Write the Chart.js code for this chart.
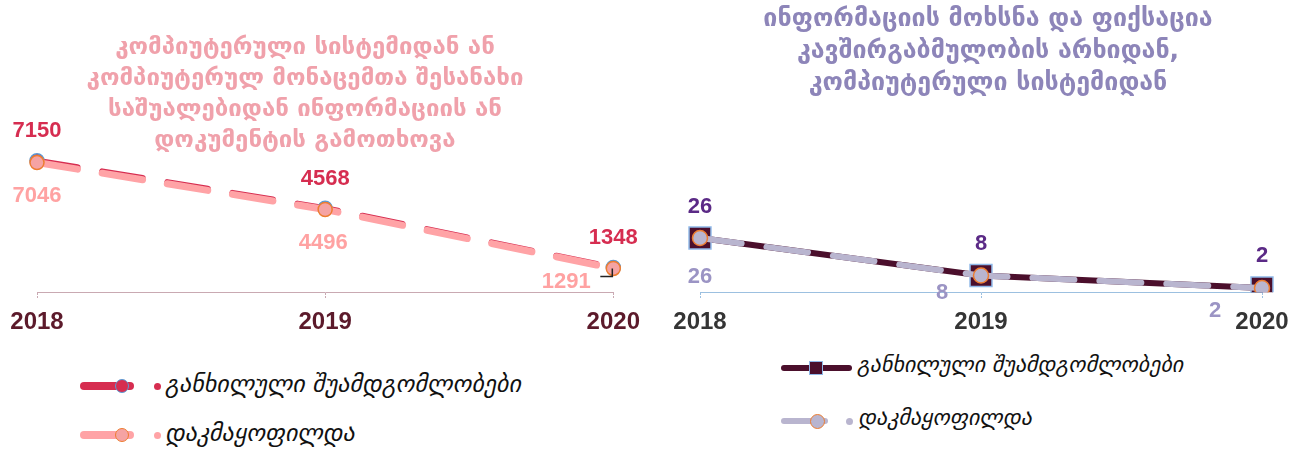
<!DOCTYPE html>
<html>
<head>
<meta charset="utf-8">
<script src="https://cdn.jsdelivr.net/npm/chart.js@4/dist/chart.umd.min.js"></script>
<style>
  body { margin: 0; background: #fff; width: 1301px; height: 449px; position: relative; overflow: hidden; font-family: "DejaVu Sans", sans-serif; }
  .box { position: absolute; top: 0; height: 347px; }
  .title { position: absolute; text-align: center; font-weight: bold; font-size: 24px; line-height: 31px; white-space: nowrap; transform: translateX(-50%); }
  .leg { position: absolute; font-style: italic; font-size: 24px; color: #111; white-space: nowrap; }
  .leg .row { position: absolute; left: 0; height: 20px; }
  .leg .ln { position: absolute; top: -4px; height: 8px; border-radius: 4px; }
  .leg .mk { position: absolute; box-sizing: border-box; }
  .leg .dot { position: absolute; width: 7px; height: 7px; border-radius: 50%; top: -3.5px; }
  .leg .tx { position: absolute; top: -16px; }
</style>
</head>
<body>
<div class="box" style="left:0;width:650px"><canvas id="chartA"></canvas></div>
<div class="box" style="left:660px;width:641px"><canvas id="chartB"></canvas></div>
<div class="title" id="titleA" style="left:305px;top:31px;color:#f0a1ab"></div>
<div class="title" id="titleB" style="left:988px;top:2px;line-height:32px;font-size:25px;color:#8d85b9"></div>
<div class="leg" id="legA"></div>
<div class="leg" id="legB" style="font-size:22px"></div>
<script>
// --- Data ---
const years = ['2018', '2019', '2020'];
const seriesNames = ['განხილული შუამდგომლობები', 'დაკმაყოფილდა'];

// left chart: retrieval of information from a computer system
const reviewedA = [7150, 4568, 1348];
const grantedA = [7046, 4496, 1291];
const titleA = [
  'კომპიუტერული სისტემიდან ან',
  'კომპიუტერულ მონაცემთა შესანახი',
  'საშუალებიდან ინფორმაციის ან',
  'დოკუმენტის გამოთხოვა'
];

// right chart: interception from communication channel
const reviewedB = [26, 8, 2];
const grantedB = [26, 8, 2];
const titleB = [
  'ინფორმაციის მოხსნა და ფიქსაცია',
  'კავშირგაბმულობის არხიდან,',
  'კომპიუტერული სისტემიდან'
];

// --- Colours ---
const RED = '#d62d50';
const PINK = '#ffa3a6';
const MAROON = '#4b0f2c';
const LAVENDER = '#b9b5cf';
const ORANGE = '#ed7d31';
const BLUE = '#5b9bd5';

document.getElementById('titleA').innerHTML = titleA.join('<br>');
document.getElementById('titleB').innerHTML = titleB.join('<br>');

// draws the numbers next to each point (no datalabels plugin offline)
const valueLabels = {
  id: 'valueLabels',
  afterDatasetsDraw(chart) {
    const ctx = chart.ctx;
    chart.data.datasets.forEach((ds, i) => {
      const lab = ds.valueLabel;
      if (!lab) return;
      const meta = chart.getDatasetMeta(i);
      meta.data.forEach((pt, j) => {
        const off = lab.offsets[j];
        ctx.save();
        ctx.font = 'bold 22px "Liberation Sans", Arial, sans-serif';
        ctx.fillStyle = lab.color;
        ctx.textAlign = 'center';
        ctx.textBaseline = 'middle';
        ctx.fillText(String(ds.data[j]), pt.x + off[0], pt.y + off[1]);
        if (lab.leader === j) {
          ctx.strokeStyle = '#222';
          ctx.lineWidth = 1.5;
          ctx.beginPath();
          ctx.moveTo(pt.x - 13, pt.y + 8);
          ctx.lineTo(pt.x - 1, pt.y + 8);
          ctx.lineTo(pt.x - 1, pt.y);
          ctx.stroke();
        }
        ctx.restore();
      });
    });
  }
};

function xAxis(tickColor, lineColor) {
  return {
    type: 'category',
    offset: false,
    grid: { display: true, drawOnChartArea: false, drawTicks: true, tickLength: 6, color: lineColor, tickBorderDash: [2, 1] },
    border: { display: true, color: lineColor, dash: [2, 1], width: 1 },
    ticks: { color: tickColor, padding: 10, maxRotation: 0, font: { family: '"Liberation Sans", Arial, sans-serif', size: 24, weight: 'bold' } }
  };
}

const baseOptions = {
  responsive: true,
  maintainAspectRatio: false,
  animation: false,
  plugins: { legend: { display: false }, tooltip: { enabled: false }, title: { display: false } }
};

new Chart(document.getElementById('chartA'), {
  type: 'line',
  data: {
    labels: years,
    datasets: [
      {
        label: seriesNames[0], data: reviewedA, order: 2,
        borderColor: RED, borderWidth: 6, borderDash: [41, 25], borderCapStyle: 'round',
        pointRadius: 7, pointBackgroundColor: RED, pointBorderColor: BLUE, pointBorderWidth: 1.5,
        valueLabel: { color: RED, offsets: [[0, -30], [0, -29], [0, -29]] }
      },
      {
        label: seriesNames[1], data: grantedA, order: 1,
        borderColor: PINK, borderWidth: 7, borderDash: [41, 25], borderCapStyle: 'round',
        pointRadius: 7, pointBackgroundColor: '#f5a3a3', pointBorderColor: ORANGE, pointBorderWidth: 1.5,
        valueLabel: { color: '#ffa2a2', offsets: [[0, 33], [-2, 33], [-47, 13]], leader: 2 }
      }
    ]
  },
  options: {
    ...baseOptions,
    layout: { padding: { top: 145, left: 37, right: 35, bottom: 0 } },
    scales: {
      x: xAxis('#5c1a2b', '#c9a9b2'),
      y: { display: false, min: 0, max: 8000 }
    }
  },
  plugins: [valueLabels]
});

new Chart(document.getElementById('chartB'), {
  type: 'line',
  data: {
    labels: years,
    datasets: [
      {
        label: seriesNames[0], data: reviewedB, order: 2,
        borderColor: MAROON, borderWidth: 6,
        pointStyle: 'rect', pointRadius: 15.5, pointBackgroundColor: MAROON, pointBorderColor: '#8fb8e8', pointBorderWidth: 1.5,
        valueLabel: { color: '#5b2a86', offsets: [[0, -31], [0, -32], [0, -32]] }
      },
      {
        label: seriesNames[1], data: grantedB, order: 1,
        borderColor: LAVENDER, borderWidth: 6, borderDash: [42, 25], borderCapStyle: 'round',
        pointRadius: 7.5, pointBackgroundColor: LAVENDER, pointBorderColor: ORANGE, pointBorderWidth: 1.5,
        valueLabel: { color: '#9b94c4', offsets: [[0, 39], [-39, 17], [-47, 23]] }
      }
    ]
  },
  options: {
    ...baseOptions,
    layout: { padding: { top: 188, left: 40, right: 39, bottom: 0 } },
    scales: {
      x: xAxis('#353535', '#9cc0e0'),
      y: { display: false, min: 0, max: 50 }
    }
  },
  plugins: [valueLabels]
});

// --- HTML legends (stacked vertically like the original) ---
function legendRow(y, sw) {
  let html = `<div class="row" style="top:${y}px">`;
  html += `<div class="ln" style="left:${sw.lineFrom}px;width:${sw.lineTo - sw.lineFrom}px;background:${sw.line};height:${sw.thick}px;top:${-sw.thick / 2}px"></div>`;
  const s = sw.size;
  html += `<div class="mk" style="left:${sw.mkX - s / 2}px;top:${-s / 2}px;width:${s}px;height:${s}px;background:${sw.fill};border:1.5px solid ${sw.border};border-radius:${sw.round ? '50%' : '0'}"></div>`;
  if (sw.dot) html += `<div class="dot" style="left:${sw.dotX - 3.5}px;background:${sw.dot}"></div>`;
  html += `<div class="tx" style="left:${sw.textX}px">${sw.text}</div></div>`;
  return html;
}
document.getElementById('legA').innerHTML =
  legendRow(386, { lineFrom: 80, lineTo: 134, line: RED, thick: 8, mkX: 122, size: 14, fill: RED, border: BLUE, round: true, dot: RED, dotX: 157, textX: 165, text: seriesNames[0] }) +
  legendRow(435, { lineFrom: 80, lineTo: 134, line: PINK, thick: 8, mkX: 122, size: 14, fill: '#f5a3a3', border: ORANGE, round: true, dot: PINK, dotX: 157, textX: 165, text: seriesNames[1] });
document.getElementById('legB').innerHTML =
  legendRow(368, { lineFrom: 781, lineTo: 852, line: MAROON, thick: 6, mkX: 816, size: 14, fill: MAROON, border: '#8fb8e8', round: false, textX: 857, text: seriesNames[0] }) +
  legendRow(421, { lineFrom: 781, lineTo: 828, line: LAVENDER, thick: 6, mkX: 817, size: 15, fill: LAVENDER, border: ORANGE, round: true, dot: LAVENDER, dotX: 849, textX: 858, text: seriesNames[1] });
</script>
</body>
</html>
